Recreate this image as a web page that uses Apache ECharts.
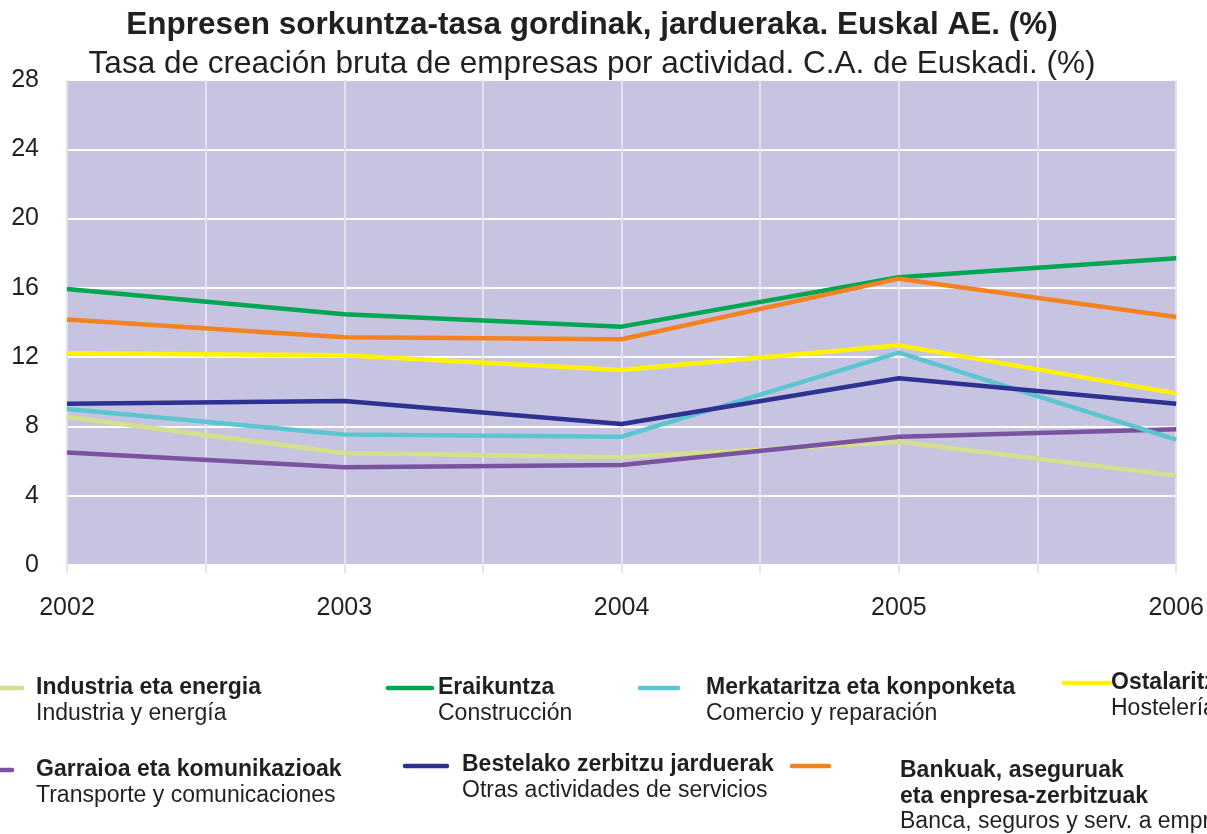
<!DOCTYPE html>
<html>
<head>
<meta charset="utf-8">
<script src="https://cdn.jsdelivr.net/npm/echarts@6/dist/echarts.min.js"></script>
<style>
  html, body { margin: 0; padding: 0; background: #fff; }
  #chart { width: 1207px; height: 834px; }
</style>
</head>
<body>
<div id="chart"></div>
<script>
// years on the x axis
var years = [2002, 2003, 2004, 2005, 2006];
var yTicks = [0, 4, 8, 12, 16, 20, 24, 28];

// series values (%)
var industria = [8.55, 6.47, 6.22, 7.12, 5.16];
var eraikuntza = [15.93, 14.47, 13.76, 16.61, 17.71];
var merkataritza = [9.0, 7.54, 7.41, 12.26, 7.24];
var ostalaritza = [12.22, 12.11, 11.26, 12.68, 9.91];
var garraioa = [6.5, 5.64, 5.77, 7.41, 7.83];
var bestelako = [9.31, 9.47, 8.14, 10.78, 9.31];
var bankuak = [14.18, 13.15, 13.03, 16.53, 14.32];

var font = '"Liberation Sans", Arial, sans-serif';
var txt = '#231F20';

function pts(vals) {
  return vals.map(function (v, i) { return [years[i], v]; });
}

function line(name, vals, color, z) {
  return {
    name: name,
    type: 'line',
    data: pts(vals),
    symbol: 'none',
    z: z,
    lineStyle: { color: color, width: 4.5 },
    itemStyle: { color: color }
  };
}

// legend drawn by hand: one coloured stroke plus bold/regular labels
function legendItem(x1, x2, ly, tx, ty, color, lines) {
  var els = [{
    type: 'line',
    shape: { x1: x1, y1: ly, x2: x2, y2: ly },
    style: { stroke: color, lineWidth: 4.5, lineCap: 'round' }
  }];
  lines.forEach(function (l, i) {
    els.push({
      type: 'text',
      x: tx, y: ty + i * 25.5,
      style: {
        text: l.t,
        font: (l.b ? 'bold ' : '') + '23px ' + font,
        fill: txt,
        textVerticalAlign: 'middle'
      }
    });
  });
  return els;
}

var graphics = [].concat(
  legendItem(-10, 22, 688, 36, 688, '#D4E08C', [{ t: 'Industria eta energia', b: true }, { t: 'Industria y energía' }]),
  legendItem(388, 432, 688, 438, 688, '#00A650', [{ t: 'Eraikuntza', b: true }, { t: 'Construcción' }]),
  legendItem(640, 678, 688, 706, 688, '#5BC5D0', [{ t: 'Merkataritza eta konponketa', b: true }, { t: 'Comercio y reparación' }]),
  legendItem(1064, 1110, 683, 1111, 683, '#FFF200', [{ t: 'Ostalaritza', b: true }, { t: 'Hostelería' }]),
  legendItem(-10, 12, 770, 36, 770, '#7B52A0', [{ t: 'Garraioa eta komunikazioak', b: true }, { t: 'Transporte y comunicaciones' }]),
  legendItem(405, 447, 766, 462, 765, '#2E3192', [{ t: 'Bestelako zerbitzu jarduerak', b: true }, { t: 'Otras actividades de servicios' }]),
  legendItem(792, 829, 766, 900, 771, '#F58220', [{ t: 'Bankuak, aseguruak', b: true }, { t: 'eta enpresa-zerbitzuak', b: true }, { t: 'Banca, seguros y serv. a empresas' }])
);

var chart = echarts.init(document.getElementById('chart'));
chart.setOption({
  animation: false,
  backgroundColor: '#fff',
  textStyle: { fontFamily: font },
  title: [{
    text: 'Enpresen sorkuntza-tasa gordinak, jardueraka. Euskal AE. (%)',
    left: 587, top: 4, textAlign: 'center',
    textStyle: { fontSize: 31.5, fontWeight: 'bold', color: txt, fontFamily: font }
  }, {
    text: 'Tasa de creación bruta de empresas por actividad. C.A. de Euskadi. (%)',
    left: 587, top: 43, textAlign: 'center',
    textStyle: { fontSize: 31.5, fontWeight: 'normal', color: txt, fontFamily: font }
  }],
  grid: {
    left: 67, right: 30, top: 80, bottom: 269,
    show: true, backgroundColor: '#C7C4E2', borderWidth: 0
  },
  xAxis: {
    type: 'value',
    min: years[0], max: years[years.length - 1], interval: 0.5,
    axisLine: { show: false },
    axisTick: { show: true, length: 8, lineStyle: { color: '#E6E6EC', width: 2 } },
    splitLine: { show: true, lineStyle: { color: '#E2E1EC', width: 2 } },
    axisLabel: {
      margin: 31, fontSize: 25, color: txt,
      formatter: function (v) { return years.indexOf(v) >= 0 ? String(v) : ''; }
    }
  },
  yAxis: {
    type: 'value',
    min: yTicks[0], max: yTicks[yTicks.length - 1], interval: 4,
    axisLine: { show: false },
    axisTick: { show: false },
    splitLine: { show: true, lineStyle: { color: '#FFFFFF', width: 2 } },
    axisLabel: { margin: 28, fontSize: 25, color: txt }
  },
  series: [
    line('Industria eta energia', industria, '#D4E08C', 2),
    line('Garraioa eta komunikazioak', garraioa, '#7B52A0', 3),
    line('Merkataritza eta konponketa', merkataritza, '#5BC5D0', 4),
    line('Bestelako zerbitzu jarduerak', bestelako, '#2E3192', 5),
    line('Ostalaritza', ostalaritza, '#FFF200', 6),
    line('Eraikuntza', eraikuntza, '#00A650', 7),
    line('Bankuak, aseguruak eta enpresa-zerbitzuak', bankuak, '#F58220', 8)
  ],
  graphic: graphics
});
</script>
</body>
</html>
